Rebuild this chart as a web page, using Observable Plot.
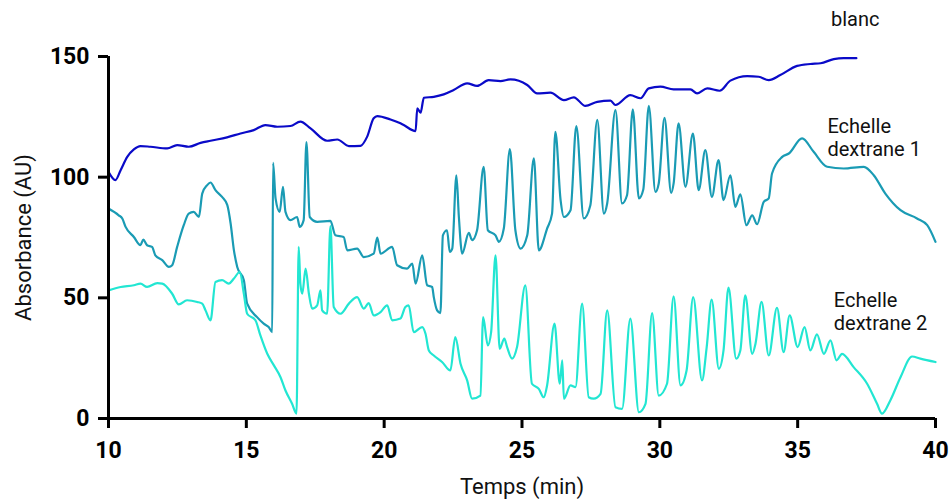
<!DOCTYPE html>
<html>
<head>
<meta charset="utf-8">
<script src="https://cdn.jsdelivr.net/npm/d3@7"></script>
<script src="https://cdn.jsdelivr.net/npm/@observablehq/plot@0.6"></script>
<style>
  html, body { margin: 0; padding: 0; background: #fff; }
  #chart svg { display: block; font-family: Roboto, "Noto Sans", sans-serif; }
</style>
</head>
<body>
<div id="chart"></div>
<script>
// ---- Data (time in min, absorbance in AU) ----
const blanc = [
  [10.0,102.2],[10.25,98.8],[10.44,102.9],[10.68,108.4],[10.92,111.5],[11.16,112.9],[11.52,112.6],
  [12.13,111.9],[12.49,113.3],[12.91,112.6],[13.34,114.2],[13.70,115.1],[14.30,116.5],[14.79,118.1],
  [15.27,119.5],[15.69,121.6],[16.12,120.9],[16.60,121.2],[16.96,123.0],[17.33,120.2],[17.93,115.1],
  [18.30,115.6],[18.72,112.9],[19.14,113.0],[19.38,116.7],[19.62,124.4],[19.75,125.3],[20.23,123.9],
  [20.59,122.3],[20.71,121.6],[21.14,119.1],[21.20,128.5],[21.32,126.7],[21.44,132.9],[21.80,133.3],
  [22.16,134.3],[22.52,136.1],[23.01,138.9],[23.37,137.8],[23.79,140.2],[24.22,139.8],[24.58,140.5],
  [25.19,138.2],[25.55,134.7],[26.03,135.0],[26.52,131.9],[26.88,133.1],[27.30,129.5],[27.73,131.2],
  [28.21,131.7],[28.39,129.9],[28.93,134.0],[29.30,132.7],[29.60,136.8],[30.02,137.5],[30.50,136.4],
  [31.11,136.4],[31.35,134.7],[31.72,136.8],[32.17,135.8],[32.56,140.0],[33.17,141.9],[33.59,141.6],
  [33.95,140.2],[34.37,142.3],[34.98,146.1],[35.46,146.9],[35.83,147.2],[36.31,148.9],[36.67,149.3],
  [37.13,149.3]
];

const dextrane1 = [
  [10.0,87.0],[10.37,84.2],[10.50,82.9],[10.62,79.4],[10.92,75.2],[11.16,71.8],[11.26,74.1],[11.40,71.8],
  [11.58,71.1],[11.70,67.6],[11.95,65.6],[12.19,62.8],[12.31,63.5],[12.49,71.1],[12.73,80.1],[12.91,84.9],
  [13.09,85.6],[13.28,83.5],[13.40,93.2],[13.58,96.7],[13.70,97.8],[13.88,94.6],[14.12,91.8],[14.31,88.4],
  [14.43,80.8],[14.55,69.7],[14.67,62.8],[14.91,57.3],[15.03,47.6],[15.39,42.0],[15.63,39.3],[15.81,37.9],
  [15.94,35.8],[15.97,105.9],[16.06,91.2],[16.21,85.6],[16.33,96.0],[16.42,85.6],[16.60,82.2],[16.84,83.5],
  [16.94,79.4],[17.08,82.2],[17.18,114.5],[17.30,83.5],[17.57,81.5],[18.05,81.9],[18.23,75.9],[18.53,75.2],
  [18.66,69.7],[19.02,70.4],[19.26,66.9],[19.62,68.3],[19.75,75.0],[19.87,68.3],[20.29,71.1],[20.47,63.5],
  [20.83,62.1],[21.02,64.2],[21.14,55.9],[21.38,67.6],[21.56,55.2],[21.74,54.5],[21.80,50.3],[21.92,44.8],
  [22.04,43.7],[22.13,75.9],[22.28,78.0],[22.38,69.0],[22.47,70.4],[22.62,100.8],[22.71,83.5],[22.83,68.3],
  [23.07,76.9],[23.19,73.9],[23.37,78.0],[23.61,104.3],[23.76,78.0],[24.04,75.9],[24.16,73.2],[24.34,78.7],
  [24.56,111.6],[24.76,78.0],[24.95,70.4],[25.19,75.9],[25.43,107.8],[25.61,69.7],[25.91,78.7],[26.09,84.9],
  [26.21,118.8],[26.40,90.5],[26.52,83.5],[26.76,86.3],[26.97,121.2],[27.24,82.9],[27.48,88.4],[27.73,123.7],
  [27.97,84.9],[28.09,89.1],[28.39,127.8],[28.63,89.1],[28.81,92.5],[29.02,128.1],[29.24,91.2],[29.40,94.9],
  [29.60,129.5],[29.84,93.9],[29.96,97.4],[30.17,124.6],[30.41,93.5],[30.50,97.4],[30.68,122.3],[30.93,96.0],
  [31.20,118.1],[31.41,94.6],[31.65,111.2],[31.89,91.8],[32.13,107.1],[32.31,90.5],[32.56,100.8],[32.74,87.7],
  [32.92,92.9],[33.14,80.1],[33.35,84.2],[33.53,80.5],[33.77,89.8],[33.95,91.2],[34.07,101.5],[34.44,108.4],
  [34.68,109.8],[35.16,116.1],[35.58,110.5],[36.07,104.3],[36.67,103.6],[37.40,104.3],[37.76,100.8],
  [38.18,93.2],[38.73,86.3],[39.33,82.9],[39.70,80.1],[40.0,73.2]
];

const dextrane2 = [
  [10.0,53.1],[10.44,54.5],[10.92,55.2],[11.16,55.9],[11.40,54.5],[11.77,56.1],[11.95,55.9],[12.31,51.7],
  [12.55,47.3],[12.85,49.0],[13.22,48.3],[13.40,47.6],[13.52,44.8],[13.70,40.7],[13.88,56.6],[14.12,57.3],
  [14.36,55.9],[14.55,58.0],[14.76,60.7],[14.91,51.7],[15.03,43.4],[15.33,40.7],[15.51,34.4],[15.76,26.8],
  [16.00,22.0],[16.24,17.1],[16.42,11.6],[16.66,6.1],[16.82,2.0],[16.90,71.1],[16.96,55.9],[17.03,51.7],
  [17.15,62.1],[17.27,51.7],[17.39,45.5],[17.57,46.9],[17.69,53.1],[17.75,44.8],[17.93,43.4],[18.05,79.7],
  [18.17,46.2],[18.42,43.4],[18.72,47.6],[19.02,50.3],[19.26,45.5],[19.44,47.8],[19.62,42.7],[19.87,44.1],
  [20.11,46.9],[20.29,40.7],[20.59,41.4],[20.77,46.2],[20.89,46.9],[21.07,35.8],[21.38,37.9],[21.50,35.1],
  [21.62,28.2],[21.80,26.1],[22.10,23.4],[22.40,19.9],[22.58,33.7],[22.77,22.7],[23.01,15.8],[23.19,8.2],
  [23.49,9.5],[23.59,42.0],[23.76,30.3],[23.88,35.8],[24.04,67.6],[24.19,28.9],[24.36,33.1],[24.46,29.6],
  [24.64,24.8],[24.82,29.6],[25.12,55.2],[25.36,14.4],[25.61,12.3],[25.79,8.8],[25.91,13.7],[26.18,39.3],
  [26.37,14.4],[26.46,24.1],[26.52,8.2],[26.76,13.7],[26.94,13.0],[27.18,47.6],[27.42,8.8],[27.60,8.2],
  [27.85,10.2],[28.09,44.8],[28.39,4.7],[28.63,4.0],[28.93,41.4],[29.24,2.6],[29.48,6.1],[29.72,43.7],
  [29.96,9.5],[30.26,14.4],[30.50,50.6],[30.75,13.7],[30.97,19.9],[31.21,50.3],[31.53,15.8],[31.70,29.6],
  [31.88,49.3],[32.14,20.6],[32.31,28.2],[32.49,54.2],[32.77,24.8],[32.92,28.2],[33.10,51.0],[33.35,26.8],
  [33.47,31.0],[33.69,48.3],[33.95,26.1],[34.25,45.9],[34.49,27.5],[34.71,42.7],[35.00,29.6],[35.25,37.9],
  [35.46,28.2],[35.70,34.9],[35.95,26.8],[36.19,32.4],[36.41,24.1],[36.61,26.8],[37.03,21.3],[37.52,14.4],
  [37.88,6.1],[38.06,2.0],[38.36,7.5],[38.73,17.1],[39.15,25.7],[39.45,24.8],[40.0,23.4]
];

const xTicks = [10, 15, 20, 25, 30, 35, 40];
const yTicks = [0, 50, 100, 150];
const xTitle = "Temps (min)";
const yTitle = "Absorbance (AU)";
const seriesNames = ["blanc", "Echelle\ndextrane 1", "Echelle\ndextrane 2"];

// ---- Layout / style ----
const colors = ["#0a0ac8", "#1a9bb4", "#22e6d2"];
const labelPos = [[36.21, 162.7], [36.08, 108.7], [36.31, 36.8]];

const series = [blanc, dextrane1, dextrane2];
const rows = series.flatMap((s, i) => s.map(([t, v]) => ({t, v, k: i})));
const labels = seriesNames.map((name, i) => ({name, t: labelPos[i][0], v: labelPos[i][1]}));

const chart = Plot.plot({
  width: 951,
  height: 499,
  marginLeft: 108,
  marginRight: 16,
  marginTop: 56,
  marginBottom: 81,
  style: {fontFamily: "Roboto, sans-serif", color: "#111", background: "#fff", overflow: "visible"},
  x: {domain: [10, 40]},
  y: {domain: [0, 150]},
  marks: [
    Plot.axisX({ticks: xTicks, tickSize: 10, tickPadding: 13, tickFormat: d => String(d),
      fontSize: 23, fontWeight: "bold", strokeWidth: 3, stroke: "#000", fill: "#000", label: null}),
    Plot.axisY({ticks: yTicks, tickSize: 10, tickPadding: 9, tickFormat: d => String(d),
      fontSize: 23, fontWeight: "bold", strokeWidth: 3, stroke: "#000", fill: "#000", label: null}),
    Plot.line(rows, {x: "t", y: "v", z: "k", stroke: d => colors[d.k], strokeWidth: 2.2,
      curve: "monotone-x", strokeLinejoin: "round"}),
    Plot.ruleX([10], {stroke: "#000", strokeWidth: 3}),
    Plot.ruleY([0], {stroke: "#000", strokeWidth: 3}),
    Plot.text(labels, {x: "t", y: "v", text: "name", textAnchor: "start", lineAnchor: "bottom",
      lineHeight: 1.15, fontSize: 20, fill: "#111"}),
    Plot.text([yTitle], {frameAnchor: "left", text: d => d, rotate: -90, dx: -85,
      textAnchor: "middle", lineAnchor: "middle", fontSize: 22, fill: "#111"}),
    Plot.text([xTitle], {frameAnchor: "bottom", text: d => d, dy: 75, textAnchor: "middle",
      lineAnchor: "bottom", fontSize: 22, fill: "#111"})
  ]
});
document.getElementById("chart").append(chart);
</script>
</body>
</html>
